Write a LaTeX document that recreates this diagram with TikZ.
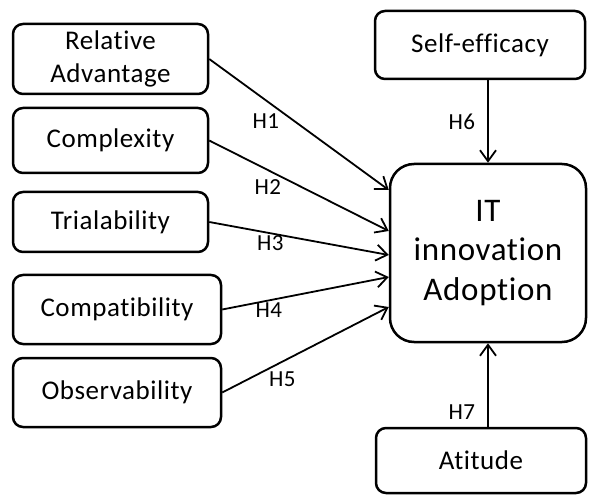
\documentclass[tikz,border=0pt]{standalone}
\usepackage{fontspec}
\setmainfont[Ligatures=NoCommon, LetterSpace=2]{Carlito}
\usetikzlibrary{arrows.meta}
\usetikzlibrary{positioning}
\tikzset{factor/.style={ % Boxes of the model
draw,
line width=2.5pt,
rounded corners=10pt,
inner sep=0pt,
align=center,
font=\fontsize{27}{33}\selectfont},
hyp/.style={ % Hypothesis arrows
draw,
-{Straight Barb[length=11pt,width=16pt]},
line width=1.8pt},
hlabel/.style={font=\fontsize{23}{27}\selectfont, inner sep=1pt}}

\begin{document}
\begin{tikzpicture}[x=1pt,y=-1pt]
\useasboundingbox (0,0) rectangle (592,497);
\node[factor, minimum width=195pt, minimum height=70pt] (rel) at (110.5,59) {Relative\\Advantage};
\node[factor, minimum width=195pt, minimum height=65pt] (cpx) at (110.5,140.5) {Complexity};
\node[factor, minimum width=195pt, minimum height=60pt] (tri) at (110.5,222) {Trialability};
\node[factor, minimum width=208pt, minimum height=69pt] (cmp) at (117,309.5) {Compatibility};
\node[factor, minimum width=208pt, minimum height=69pt] (obs) at (117,392.5) {Observability};
\node[factor, minimum width=210pt, minimum height=68pt] (self) at (480,45) {Self-efficacy};
\node[factor, minimum width=210pt, minimum height=65pt] (att) at (481,460.5) {Atitude};
\node[factor, rounded corners=24pt, minimum width=196pt, minimum height=178pt,
      font=\fontsize{33}{39.5}\selectfont] (it) at (488,253) {IT\\innovation\\Adoption};
\draw[hyp] (rel.east) -- node[hlabel, pos=0.4, anchor=north east] {H1} ([yshift=63pt]it.west);
\draw[hyp] (cpx.east) -- node[hlabel, pos=0.41, anchor=north east] {H2} ([yshift=22pt]it.west);
\draw[hyp] (tri.east) -- node[hlabel, pos=0.34, anchor=north] {H3} ([yshift=-2pt]it.west);
\draw[hyp] (cmp.east) -- node[hlabel, pos=0.28, anchor=north] {H4} ([yshift=-24pt]it.west);
\draw[hyp] (obs.east) -- node[hlabel, pos=0.27, anchor=north west] {H5} ([yshift=-54pt]it.west);
\draw[hyp] (it.north |- self.south) -- node[hlabel, left=11pt] {H6} (it.north);
\draw[hyp] (it.south |- att.north) -- node[hlabel, pos=0.18, left=11pt] {H7} (it.south);
\end{tikzpicture}
\end{document}
